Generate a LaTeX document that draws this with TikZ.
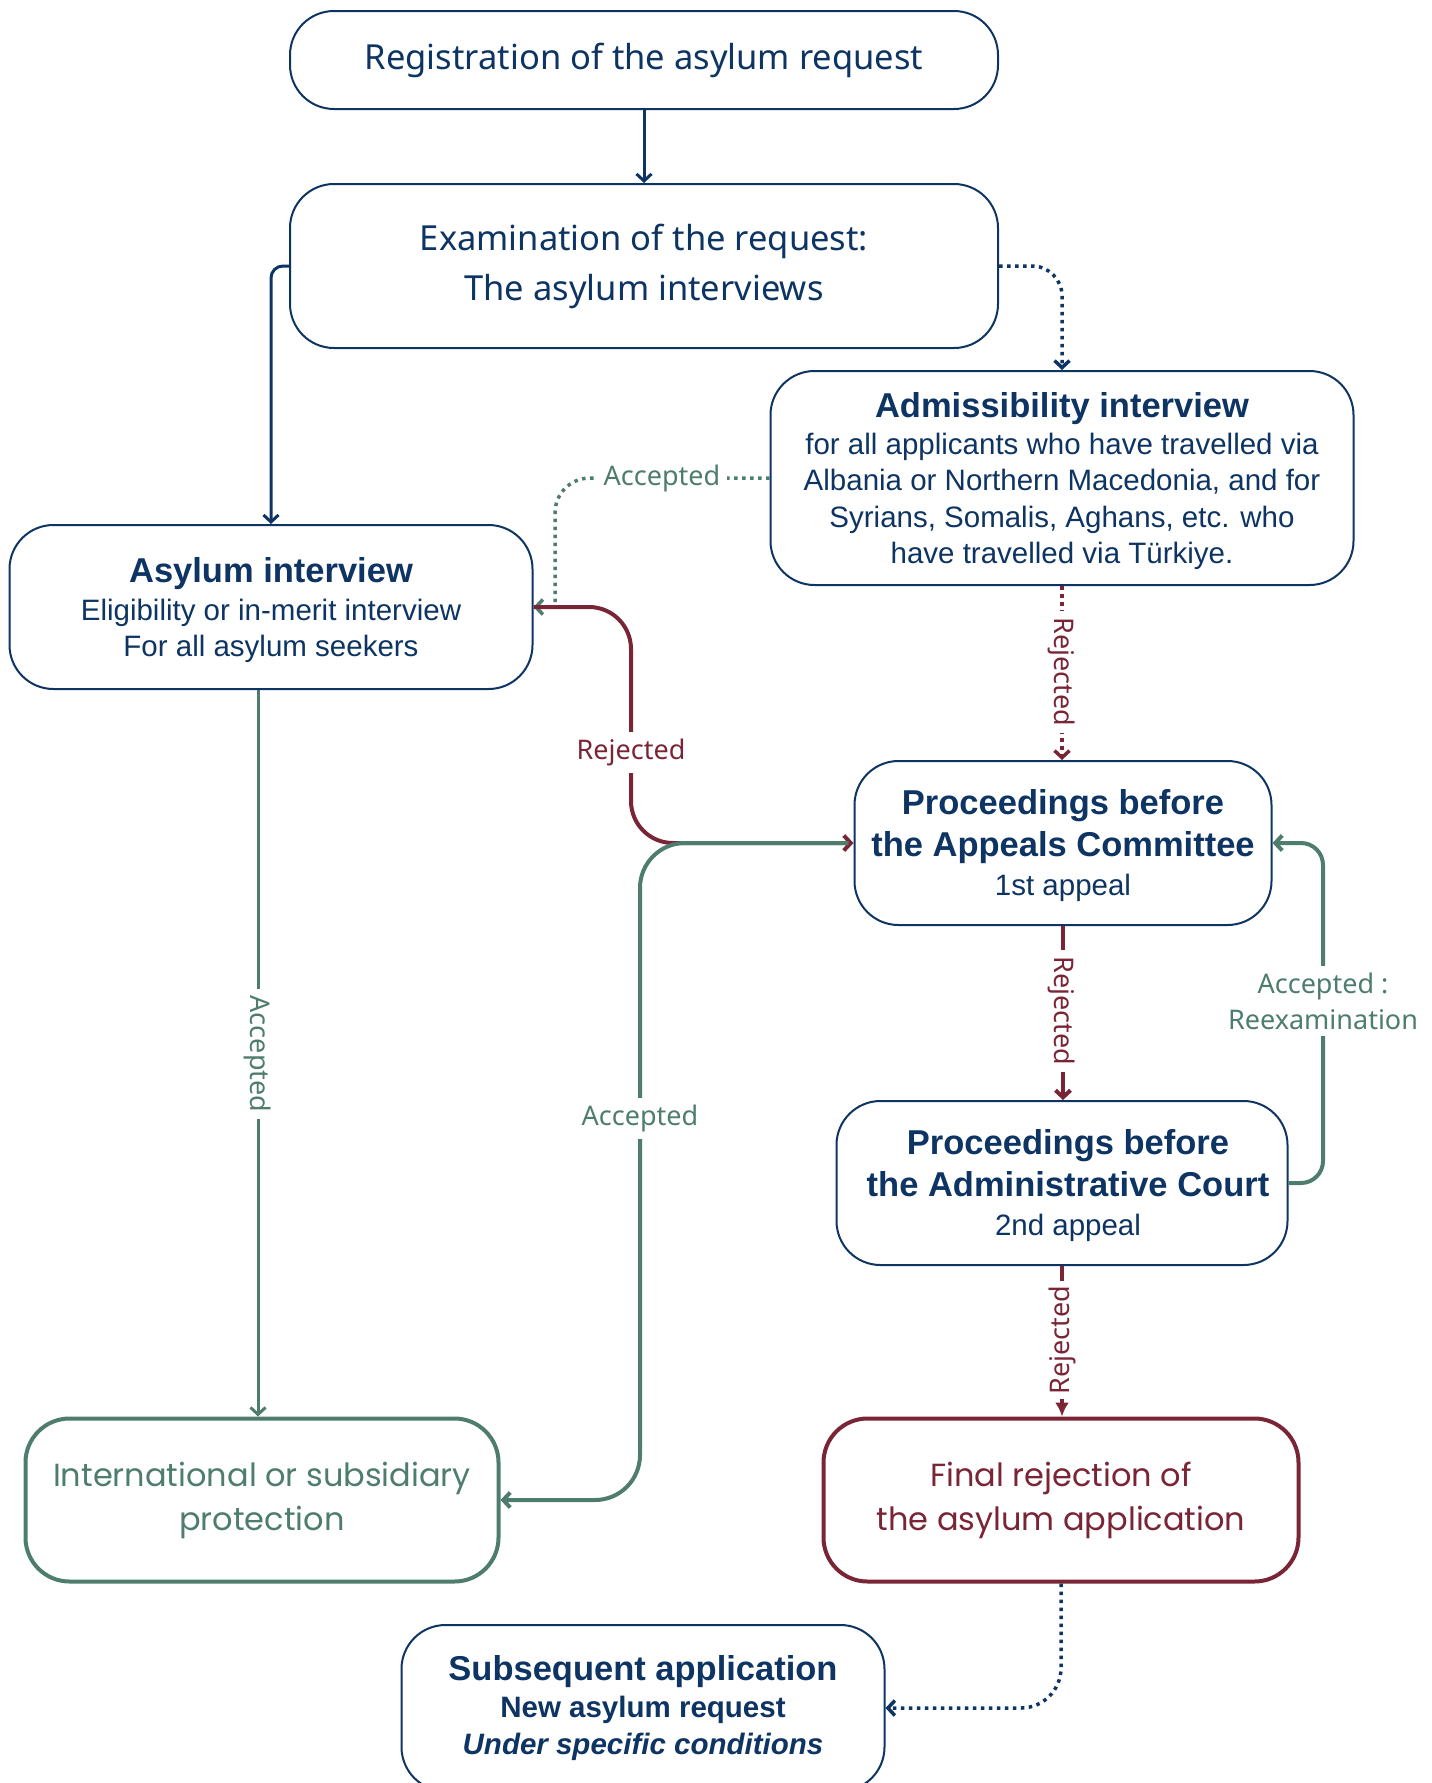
\documentclass[tikz,border=0pt]{standalone}
\usepackage{fontspec}
\setmainfont{Liberation Sans}
\newfontfamily\interf{Noto Sans}
\newfontfamily\montf{Poppins}
\usetikzlibrary{arrows.meta,calc}
\definecolor{navy}{HTML}{0D3462}
\definecolor{sgreen}{HTML}{4E7D6D}
\definecolor{dred}{HTML}{7A2536}
\tikzset{
  cbox/.style={draw=navy, line width=2pt, rounded corners=44pt, fill=white, text=navy, align=center, inner sep=0pt, font=\fontsize{29.5}{36.5}\selectfont},
  endbox/.style={line width=4pt, rounded corners=44pt, fill=white, align=center, inner sep=0pt, font=\montf\fontsize{32}{44}\selectfont},
  barbtip/.style={-{Straight Barb[length=7pt,width=15pt]}},
  navyline/.style={draw=navy, line width=3pt, barbtip},
  navydot/.style={draw=navy, line width=3.5pt, dash pattern=on 3.5pt off 4.5pt, barbtip},
  greenline/.style={draw=sgreen, line width=4pt, barbtip},
  greenthin/.style={draw=sgreen, line width=3pt, barbtip},
  greendot/.style={draw=sgreen, line width=3.5pt, dash pattern=on 3.5pt off 4.5pt, barbtip},
  redline/.style={draw=dred, line width=4pt, barbtip},
  reddot/.style={draw=dred, line width=3.5pt, dash pattern=on 3.5pt off 4.5pt, barbtip},
  lbl/.style={fill=white, inner sep=7pt, font=\interf\fontsize{27}{36}\selectfont, align=center},
  glbl/.style={lbl, text=sgreen},
  rlbl/.style={lbl, text=dred}
}
\newcommand{\bigb}[1]{{\fontsize{34.5}{40}\selectfont\bfseries #1}}
\begin{document}
\begin{tikzpicture}[x=1pt,y=-1pt]
\useasboundingbox (0,0) rectangle (1432,1783);
\clip (0,0) rectangle (1432,1783);

% nodes
\node[cbox, minimum width=708pt, minimum height=98pt, rounded corners=44pt,
      font=\interf\fontsize{34.5}{50}\selectfont] (reg) at (644,60)
  {Registration of the asylum request};
\node[cbox, minimum width=708pt, minimum height=164pt,
      font=\interf\fontsize{34.5}{50}\selectfont] (exam) at (644,266)
  {Examination of the request:\\The asylum interviews};
\node[cbox, minimum width=583pt, minimum height=214pt, text depth=0pt] (adm) at (1062,478)
  {\raisebox{0pt}[25pt][0pt]{}\bigb{Admissibility interview}\\for all applicants who have travelled via\\Albania or Northern Macedonia, and for\\Syrians, Somalis, Aghans, etc. who\\have travelled via Türkiye.};
\node[cbox, minimum width=523pt, minimum height=164pt, font=\fontsize{29.5}{35.5}\selectfont] (asy) at (271,607)
  {\raisebox{0pt}[31pt][0pt]{}\bigb{Asylum interview}\\[3pt]Eligibility or in-merit interview\\For all asylum seekers};
\node[cbox, minimum width=417pt, minimum height=164pt, font=\fontsize{29.5}{39}\selectfont] (app) at (1063,843)
  {\raisebox{0pt}[31pt][0pt]{}\bigb{Proceedings before}\\[3pt]\bigb{the Appeals Committee}\\1st appeal};
\node[cbox, minimum width=451pt, minimum height=164pt, font=\fontsize{29.5}{39}\selectfont] (adc) at (1062,1183)
  {\raisebox{0pt}[31pt][0pt]{}\hspace*{12pt}\bigb{Proceedings before}\\[3pt]\hspace*{12pt}\bigb{the Administrative Court}\\\hspace*{12pt}2nd appeal};
\node[endbox, draw=sgreen, text=sgreen, minimum width=473pt, minimum height=163pt] (intl) at (262,1500)
  {International or subsidiary\\protection};
\node[endbox, draw=dred, text=dred, minimum width=475pt, minimum height=163pt] (fin) at (1061,1500)
  {Final rejection of\\the asylum application};
\node[cbox, minimum width=483pt, minimum height=166pt, font=\fontsize{29.5}{37}\selectfont\bfseries] (sub) at (643,1708)
  {\bigb{Subsequent application}\\New asylum request\\\itshape Under specific conditions};

\coordinate (accx) at (258,0);

% connectors
\draw[navyline] (reg) -- (exam);
\draw[navyline, rounded corners=12pt] (exam.west) -| (asy.north);
\draw[navydot, rounded corners=30pt] (exam.east) -| (adm.north);
\draw[greendot] (adm.west) -- (590,478) to[out=180,in=90] (555,513) -- (555,607) -- (asy.east);
\draw[redline, rounded corners=42pt] (asy.east) -| (631,843) -- (app.west);
\draw[greenline, rounded corners=45pt] ($(app.west)+(-5,0)$) -| (640,1500) -- (intl.east);
\draw[greenthin] (asy.south -| accx) -- (intl.north -| accx);
\draw[reddot] (adm.south) -- (adm.south |- app.north);
\draw[redline] (app.south) -- (app.south |- adc.north);
\draw[redline, -{Latex[length=14pt,width=14pt]}] (adc.south) -- (adc.south |- fin.north);
\draw[greenline, rounded corners=22pt] (adc.east) -| (1323,843) -- (app.east);
\draw[navydot, rounded corners=40pt] (fin.south) |- (sub.east);

% labels
\node[glbl] (lacc1) at (662,478) {Accepted};
\node[rlbl] (lrej1) at (631,752) {Rejected};
\node[glbl] (lacc2) at (640,1118) {Accepted};
\node[glbl, rotate=-90] (lacc3) at (258,1054) {Accepted};
\node[rlbl, rotate=-90] (lrej2) at (1062,672) {Rejected};
\node[rlbl, rotate=-90] (lrej3) at (1062,1011) {Rejected};
\node[rlbl, rotate=90, inner sep=5pt] (lrej4) at (1062,1340) {Rejected};
\node[glbl] (lacc4) at (1323,1001) {Accepted :\\Reexamination};
\end{tikzpicture}
\end{document}
